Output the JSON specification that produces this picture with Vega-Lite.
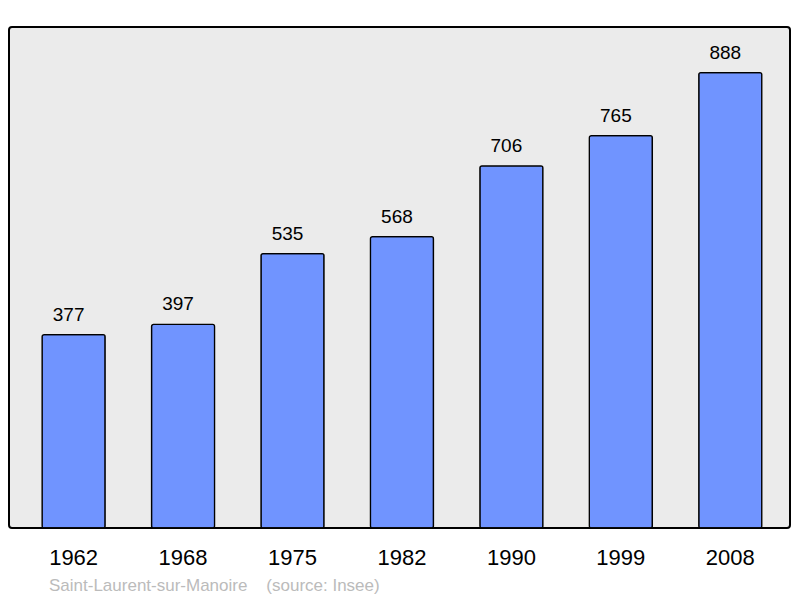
{
  "$schema": "https://vega.github.io/schema/vega-lite/v6.json",
  "width": 781,
  "height": 501,
  "autosize": {"type": "none"},
  "padding": {"left": 9, "top": 27, "right": 10, "bottom": 70},
  "background": "#ffffff",
  "config": {
    "font": "Liberation Sans",
    "view": {"fill": "#ebebeb", "stroke": "#000000", "strokeWidth": 2, "cornerRadius": 3}
  },
  "title": {
    "text": "Saint-Laurent-sur-Manoire\u00a0\u00a0\u00a0\u00a0(source: Insee)",
    "orient": "bottom",
    "anchor": "start",
    "frame": "group",
    "dx": 40,
    "offset": 23,
    "fontSize": 17,
    "fontWeight": "normal",
    "color": "#bbbbbb",
    "baseline": "alphabetic"
  },
  "data": {
    "values": [
      {"year": "1962", "population": 377},
      {"year": "1968", "population": 397},
      {"year": "1975", "population": 535},
      {"year": "1982", "population": 568},
      {"year": "1990", "population": 706},
      {"year": "1999", "population": 765},
      {"year": "2008", "population": 888}
    ]
  },
  "encoding": {
    "x": {
      "field": "year",
      "type": "nominal",
      "sort": null,
      "scale": {"paddingInner": 0.424, "paddingOuter": 0.28, "align": 0.54},
      "axis": {
        "title": null,
        "labelAngle": 0,
        "labelFontSize": 22,
        "labelColor": "#000000",
        "labelBaseline": "alphabetic",
        "labelPadding": 36,
        "ticks": false,
        "tickSize": 0,
        "domain": false,
        "grid": false
      }
    },
    "y": {
      "field": "population",
      "type": "quantitative",
      "scale": {"domain": [0, 976.8], "nice": false, "zero": true},
      "axis": null
    }
  },
  "layer": [
    {
      "mark": {"type": "bar", "fill": "#7094ff", "stroke": "#000000", "strokeWidth": 1.3, "cornerRadius": 2}
    },
    {
      "mark": {"type": "text", "fontSize": 19, "baseline": "alphabetic", "dy": -14, "dx": -5, "color": "#000000"},
      "encoding": {"text": {"field": "population", "type": "quantitative"}}
    }
  ]
}
